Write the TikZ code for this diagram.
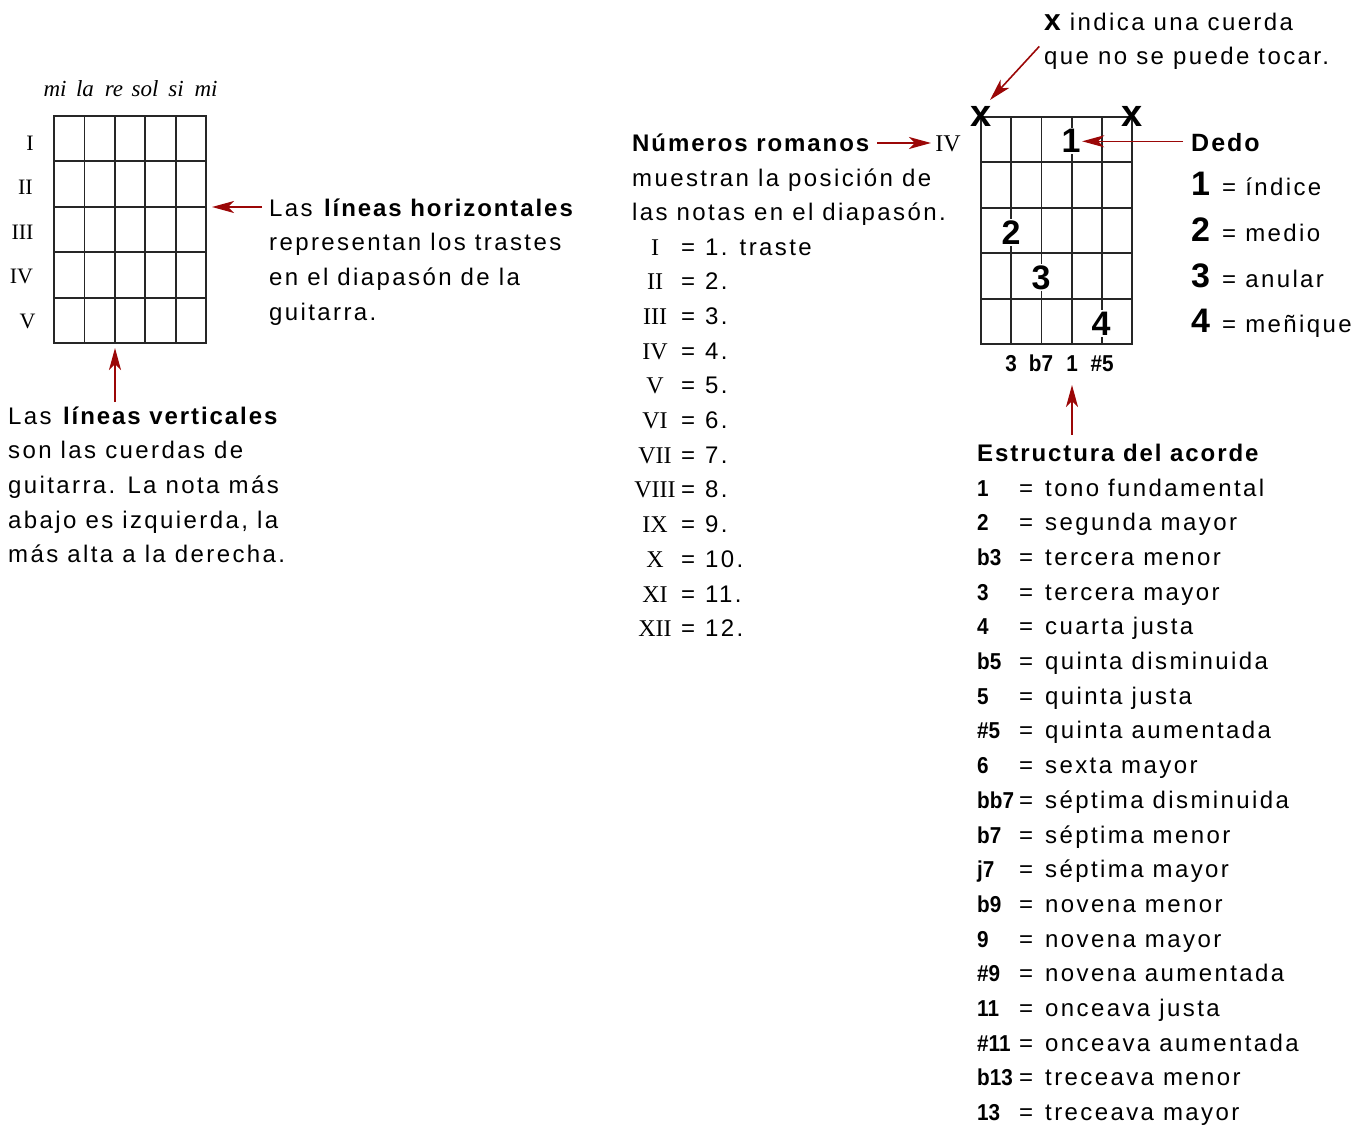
\documentclass[tikz,border=0pt]{standalone}
\usepackage{fontspec}
\setmainfont{Liberation Sans}[LetterSpace=10, BoldFeatures={LetterSpace=8}]
\newfontfamily\rmnfont{Liberation Serif}
\newfontfamily\condfont{Liberation Sans Bold}[FakeStretch=0.9]
\usetikzlibrary{arrows.meta}
\newcommand\txtsz{\fontsize{24}{34.7}\selectfont}
\definecolor{arrred}{HTML}{9B0707}
\tikzset{
  gridln/.style={line width=1.8pt, draw=black!85},
  arr/.style={draw=arrred, line width=1.6pt, -{Stealth[length=22pt,width=12pt,inset=6pt]}},
  txt/.style={font=\txtsz, inner sep=0pt, anchor=base west, align=left},
  rmnl/.style={font=\rmnfont\fontsize{24}{30}\selectfont, inner sep=0pt, anchor=base},
  finger/.style={font=\fontsize{34}{40}\selectfont\bfseries, inner sep=1.5pt, fill=white, anchor=base},
  cond/.style={font=\condfont\fontsize{23}{30}\selectfont, inner sep=0pt, anchor=base west},
}
\begin{document}
\begin{tikzpicture}[x=1pt,y=-1pt]
\useasboundingbox (0,0) rectangle (1367,1126);
% ---------- left grid ----------
\foreach \i in {0,...,5} \draw[gridln] ({54+30.4*\i},116) -- ({54+30.4*\i},343);
\foreach \j in {0,...,5} \draw[gridln] (53,{116+45.4*\j}) -- (207,{116+45.4*\j});
\foreach \n/\x in {mi/55,la/85,re/114,sol/145,si/176,mi/206}
  \node[font=\rmnfont\itshape\fontsize{23}{28}\selectfont, inner sep=0pt, anchor=base] at (\x,96.5) {\n};
\foreach \r/\x/\y in {I/30/150.5,II/25.5/194.5,III/22.5/239.5,IV/21.5/283.5,V/27.5/328}
  \node[rmnl, font=\rmnfont\fontsize{22}{28}\selectfont] at (\x,\y) {\r};
\coordinate (g1e) at (212,207);
\coordinate (g1s) at (115,348);
% multi-line nodes: base anchor = baseline of last line
\node[txt] (htext) at (269,320.1) {Las \textbf{líneas horizontales}\\representan los trastes\\en el diapasón de la\\guitarra.};
\node[txt] (vtext) at (8,562.8) {Las \textbf{líneas verticales}\\son las cuerdas de\\guitarra. La nota más\\abajo es izquierda, la\\más alta a la derecha.};
\draw[arr, shorten <=7pt] (htext.west |- g1e) -- (g1e);
\draw[arr, shorten <=4pt] (vtext.north -| g1s) -- (g1s);
% ---------- middle ----------
\node[txt] (nr) at (632,152) {\textbf{Números romanos}};
\node[rmnl] (iv) at (948,152) {IV};
\coordinate (ivm) at (931,143);
\draw[arr] (nr.east |- ivm) ++(6,0) -- (ivm);
\node[txt] (nrt) at (632,220.7) {muestran la posición de\\las notas en el diapasón.};
\foreach \r/\v [count=\k from 0] in {I/1. traste,II/2.,III/3.,IV/4.,V/5.,VI/6.,VII/7.,VIII/8.,IX/9.,X/10.,XI/11.,XII/12.}{
  \node[rmnl] at (655,{255+34.7*\k}) {\r};
  \node[font=\txtsz, inner sep=0pt, anchor=base] at (688,{255+34.7*\k}) {=};
  \node[txt] at (705,{255+34.7*\k}) {\v};
}
% ---------- right grid ----------
\foreach \i in {0,...,5} \draw[gridln] ({981+30.2*\i},117) -- ({981+30.2*\i},344);
\foreach \j in {0,...,5} \draw[gridln] (980,{117+45.4*\j}) -- (1133,{117+45.4*\j});
\node[font=\fontsize{38}{40}\selectfont\bfseries, inner sep=0pt] (xl) at (981,116) {x};
\node[font=\fontsize{38}{40}\selectfont\bfseries, inner sep=0pt] (xr) at (1132,116) {x};
\node[finger] (f1) at (1071,153) {1};
\node[finger] (f2) at (1011,244) {2};
\node[finger] (f3) at (1041,289.5) {3};
\node[finger] (f4) at (1101,335) {4};
\foreach \l/\x in {3/1011,b7/1041,1/1072,\#5/1102}
  \node[cond, anchor=base] at (\x,371.5) {\l};
\coordinate (bot) at (1072,385);
% x text
\node[txt, font=\fontsize{24}{34}\selectfont] (xtext) at (1044,64.5) {{\fontsize{30}{30}\selectfont\bfseries x} indica una cuerda\\que no se puede tocar.};
\coordinate (xtip) at (990,100);
\draw[arr, shorten <=7pt] (xtext.west) -- (xtip);
% Dedo
\node[txt, font=\fontsize{25}{30}\selectfont\bfseries] (dedo) at (1191,152) {Dedo};
\draw[arr, shorten <=8pt] (dedo.west |- f1) -- (f1.east);
\foreach \d/\t [count=\k from 0] in {1/índice,2/medio,3/anular,4/meñique}{
  \node[txt, font=\fontsize{34}{40}\selectfont\bfseries] at (1191,{196+45.5*\k}) {\d};
  \node[txt] at (1222,{196+45.5*\k}) {= \t};
}
% Estructura
\node[txt, font=\fontsize{24}{30}\selectfont\bfseries] (estr) at (977,461.5) {Estructura del acorde};
\draw[arr, shorten <=9pt] (estr.north -| bot) -- (bot);
\foreach \l/\t [count=\k from 0] in {1/tono fundamental,2/segunda mayor,b3/tercera menor,3/tercera mayor,4/cuarta justa,b5/quinta disminuida,5/quinta justa,\#5/quinta aumentada,6/sexta mayor,bb7/séptima disminuida,b7/séptima menor,j7/séptima mayor,b9/novena menor,9/novena mayor,\#9/novena aumentada,11/onceava justa,\#11/onceava aumentada,b13/treceava menor,13/treceava mayor}{
  \node[cond] at (977,{496+34.7*\k}) {\l};
  \node[font=\txtsz, inner sep=0pt, anchor=base] at (1026,{496+34.7*\k}) {=};
  \node[txt] at (1045,{496+34.7*\k}) {\t};
}
\end{tikzpicture}
\end{document}
